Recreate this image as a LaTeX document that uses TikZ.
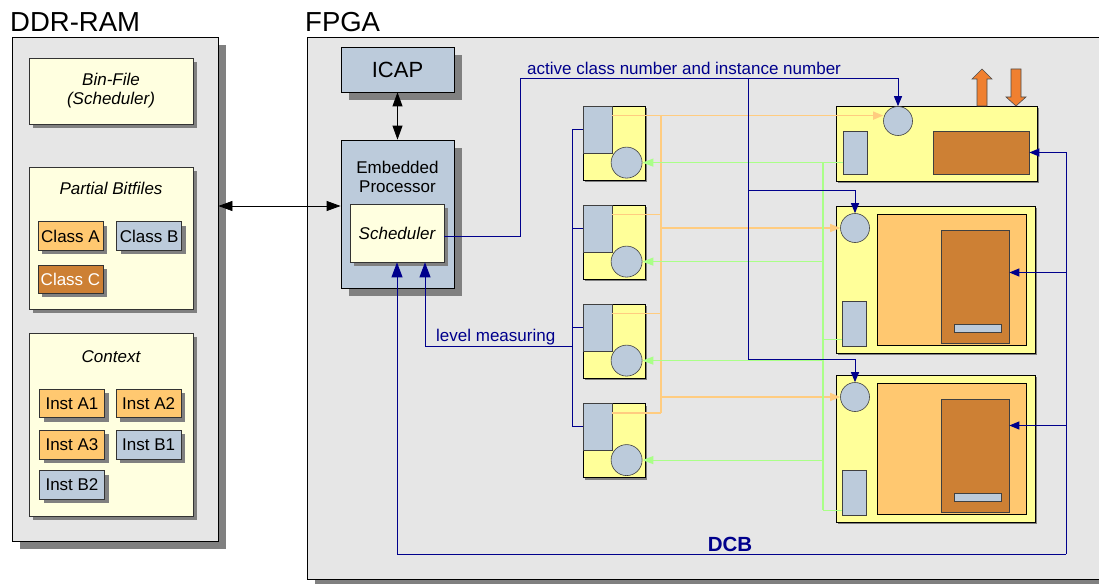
\documentclass[tikz,border=0pt]{standalone}
\usepackage{fontspec}
\setmainfont{Liberation Sans}
\usetikzlibrary{arrows.meta,positioning,shadows}
\definecolor{FrameGray}{RGB}{230,230,230}
\definecolor{ShadowGray}{RGB}{128,128,128}
\definecolor{PaperYellow}{RGB}{255,255,224}
\definecolor{ModYellow}{RGB}{255,255,153}
\definecolor{SlateBlue}{RGB}{188,203,219}
\definecolor{LightOrange}{RGB}{255,200,112}
\definecolor{Rust}{RGB}{205,128,52}
\definecolor{BusNavy}{RGB}{0,0,140}
\definecolor{ArrowOrange}{RGB}{240,128,48}
\definecolor{WireOrange}{RGB}{255,204,128}
\definecolor{WireGreen}{RGB}{170,255,136}
\newcommand{\diagfont}{\fontsize{17}{19}\selectfont}

\begin{document}
\begin{tikzpicture}[x=1pt, y=-1pt,
    memframe/.style={draw=black, line width=0.8pt, fill=FrameGray, inner sep=0pt,
      drop shadow={shadow xshift=8pt, shadow yshift=-8pt, fill=ShadowGray, opacity=1}},
    titletext/.style={font=\fontsize{27.5}{33}\selectfont, inner sep=0pt},
    docbox/.style={draw=black!80, line width=0.7pt, fill=PaperYellow, inner sep=0pt,
      drop shadow={shadow xshift=4pt, shadow yshift=-4pt, fill=ShadowGray, opacity=1}},
    doctitle/.style={font=\diagfont\itshape, inner sep=0pt, anchor=base},
    filetag/.style={draw=black!80, line width=0.7pt, minimum width=65pt, minimum height=28.5pt,
      inner sep=0pt, font=\diagfont,
      drop shadow={shadow xshift=4pt, shadow yshift=-4pt, fill=ShadowGray, opacity=1}},
    greybox/.style={draw=black, line width=0.8pt, fill=SlateBlue, inner sep=0pt,
      drop shadow={shadow xshift=8pt, shadow yshift=-8pt, fill=ShadowGray, opacity=1}},
    modbox/.style={draw=black, line width=0.8pt, fill=ModYellow, inner sep=0pt,
      drop shadow={shadow xshift=2pt, shadow yshift=-2pt, fill=ShadowGray, opacity=1}},
    regbox/.style={draw=black!75, line width=0.6pt, fill=SlateBlue, inner sep=0pt},
    portcirc/.style={circle, draw=black!75, line width=0.6pt, fill=SlateBlue, inner sep=0pt, minimum size=30pt},
    dblarrow/.style={<->, >={Triangle[length=14pt,width=10pt]}, line width=0.8pt},
    busline/.style={draw=BusNavy, line width=1pt, >={Triangle[length=10pt,width=8pt]}},
    orangewire/.style={draw=WireOrange, line width=1.4pt, >={Triangle[length=10pt,width=8pt]}},
    greenwire/.style={draw=WireGreen, line width=1.2pt, >={Triangle[length=11pt,width=8pt]}},
    buslabel/.style={font=\diagfont, text=BusNavy, inner sep=0pt, anchor=base west}
  ]
    \useasboundingbox (0,0) rectangle (1099,583);

    % memory side
    \node[memframe, minimum width=206pt, minimum height=504pt] (ddr) at (115,289) {};
    \node[titletext, anchor=base west] (ddrtitle) at (10,32) {DDR-RAM};
    \node[docbox, minimum width=164pt, minimum height=66pt, font=\diagfont\itshape, align=center] (binfile) at (111,91) {Bin-File\\(Scheduler)};
    \node[docbox, minimum width=164pt, minimum height=142pt] (partial) at (111,238) {};
    \node[doctitle] (partialtitle) at (111,194) {Partial Bitfiles};
    \node[filetag, fill=LightOrange] (classa) at (70.5,236) {Class A};
    \node[filetag, fill=SlateBlue, right=13pt of classa] (classb) {Class B};
    \node[filetag, fill=Rust, text=white, below=14pt of classa] (classc) {Class C};
    \node[docbox, minimum width=164pt, minimum height=183pt] (context) at (111,424.5) {};
    \node[doctitle] (contexttitle) at (111,362) {Context};
    \node[filetag, fill=LightOrange] (insta1) at (72,403.5) {Inst A1};
    \node[filetag, fill=LightOrange, right=11pt of insta1] (insta2) {Inst A2};
    \node[filetag, fill=LightOrange, below=12pt of insta1] (insta3) {Inst A3};
    \node[filetag, fill=SlateBlue, right=11pt of insta3] (instb1) {Inst B1};
    \node[filetag, fill=SlateBlue, below=11pt of insta3] (instb2) {Inst B2};

    % fpga side
    \node[memframe, minimum width=803pt, minimum height=542pt] (fpga) at (708.5,308) {};
    \node[titletext, anchor=base west] (fpgatitle) at (305,32) {FPGA};
    \node[greybox, minimum width=113pt, minimum height=45pt, font=\fontsize{22}{26}\selectfont] (icap) at (397.5,69.5) {ICAP};
    \node[greybox, minimum width=113pt, minimum height=148pt] (proc) at (397.5,214) {};
    \node[font=\diagfont, align=center, inner sep=0pt] (proctxt) at (397.5,177) {Embedded\\Processor};
    \node[docbox, minimum width=94pt, minimum height=58pt, font=\diagfont\itshape] (sched) at (397,233) {Scheduler};

    % interface modules
    \foreach \i/\y in {1/143,2/242,3/341,4/440.5} {
      \node[modbox, minimum width=62pt, minimum height=74pt] (ifc\i) at (614,\y) {};
      \node[regbox, anchor=north west, minimum width=29pt, minimum height=47pt] (ifcreg\i) at (ifc\i.north west) {};
      \node[portcirc, minimum size=31pt] (ifcport\i) at ([xshift=44pt,yshift=-57pt]ifc\i.north west) {};
    }

    % reconfigurable slots
    \node[modbox, minimum width=201pt, minimum height=75pt] (slot1) at (936.5,143.5) {};
    \node[portcirc, minimum size=29pt] (slot1port) at (898,121) {};
    \node[regbox, minimum width=24pt, minimum height=43pt] (slot1reg) at (855,152.5) {};
    \node[regbox, fill=Rust, minimum width=96pt, minimum height=43pt] (slot1core) at (981,152.5) {};
    \foreach \i/\y in {2/279.5,3/448.5} {
      \node[modbox, minimum width=199pt, minimum height=147pt] (slot\i) at (935.5,\y) {};
      \node[portcirc, minimum size=29pt] (slot\i port) at (855,\y-51.5) {};
      \node[draw=black, line width=0.8pt, fill=LightOrange, minimum width=149pt, minimum height=131pt] (slot\i area) at (951.5,\y) {};
      \node[regbox, fill=Rust, minimum width=68pt, minimum height=113pt] (slot\i core) at (975,\y+7) {};
      \node[regbox, minimum width=47pt, minimum height=8pt] (slot\i bar) at (977.5,\y+48.5) {};
      \node[regbox, minimum width=24pt, minimum height=45pt] (slot\i reg) at (854,\y+44) {};
    }
    \filldraw[fill=ArrowOrange, draw=black!70, line width=0.6pt] (977,106) -- (977,79) -- (972,79) -- (982,69) -- (992,79) -- (987,79) -- (987,106) -- cycle;
    \filldraw[fill=ArrowOrange, draw=black!70, line width=0.6pt] (1011,69) -- (1021,69) -- (1021,97) -- (1026,97) -- (1016,106) -- (1006,97) -- (1011,97) -- cycle;

    \draw[dblarrow] ([yshift=8pt]proc.west) -- ([yshift=8pt]proc.west -| ddr.east);
    \draw[dblarrow] (icap) -- (proc);

    % orange wires
    \coordinate (obus) at (661,116);
    \draw[orangewire,->] ([yshift=-10pt]ifcreg1.north east) -- ([yshift=-10pt]ifcreg1.north east -| slot1port.west);
    \foreach \i in {2,3,4}
      \draw[orangewire] ([yshift=-10pt]ifcreg\i.north east) -- ([yshift=-10pt]ifcreg\i.north east -| obus);
    \draw[orangewire] (obus) -- ([yshift=-10pt]ifcreg4.north east -| obus);
    \draw[orangewire,->] (slot2port.west -| obus) -- (slot2port.west);
    \draw[orangewire,->] (slot3port.west -| obus) -- (slot3port.west);

    % green wires
    \coordinate (gbus) at (823,163);
    \draw[greenwire,->] (ifcport1.east -| slot1reg.west) -- (ifcport1.east);
    \draw[greenwire] (gbus) -- ([yshift=5pt]slot3reg.south west -| gbus);
    \draw[greenwire] ([yshift=7pt]slot2reg.south west) -- ([yshift=7pt]slot2reg.south west -| gbus);
    \draw[greenwire] ([yshift=5pt]slot3reg.south west) -- ([yshift=5pt]slot3reg.south west -| gbus);
    \foreach \i in {2,3,4}
      \draw[greenwire,->] (ifcport\i.east -| gbus) -- (ifcport\i.east);

    % active class number
    \coordinate (acn) at (520,79);
    \coordinate (acnsplit) at (748,79);
    \draw[busline,->] ([yshift=-3pt]sched.east) -| (acn) -| (slot1port.north);
    \draw[busline,->] (acnsplit) |- ([yshift=23pt]slot2port.north) -- (slot2port.north);
    \draw[busline,->] (acnsplit) |- ([yshift=23pt]slot3port.north) -- (slot3port.north);
    \node[buslabel] (acnlabel) at (527,75) {active class number and instance number};

    % level measuring
    \coordinate (lvl) at (572,346);
    \draw[busline] (ifcreg1.west -| lvl) -- (ifcreg4.west -| lvl);
    \foreach \i in {1,...,4}
      \draw[busline] (ifcreg\i.west) -- (ifcreg\i.west -| lvl);
    \draw[busline,-{Triangle[length=15pt,width=11pt]}] (lvl) -| ([xshift=28pt]sched.south);
    \node[buslabel] (lvllabel) at (436,341) {level measuring};

    % DCB
    \coordinate (dcb) at (1066,554);
    \draw[busline,-{Triangle[length=15pt,width=11pt]}] (dcb) -| (sched.south);
    \draw[busline,->] (dcb) |- (slot1core.east);
    \draw[busline,->] ([yshift=14pt]slot2core.east -| dcb) -- ([yshift=14pt]slot2core.east);
    \draw[busline,->] ([yshift=30pt]slot3core.east -| dcb) -- ([yshift=30pt]slot3core.east);
    \node[font=\fontsize{20.5}{24}\selectfont\bfseries, text=BusNavy, inner sep=0pt] (dcblabel) at (730,544) {DCB};
\end{tikzpicture}
\end{document}
